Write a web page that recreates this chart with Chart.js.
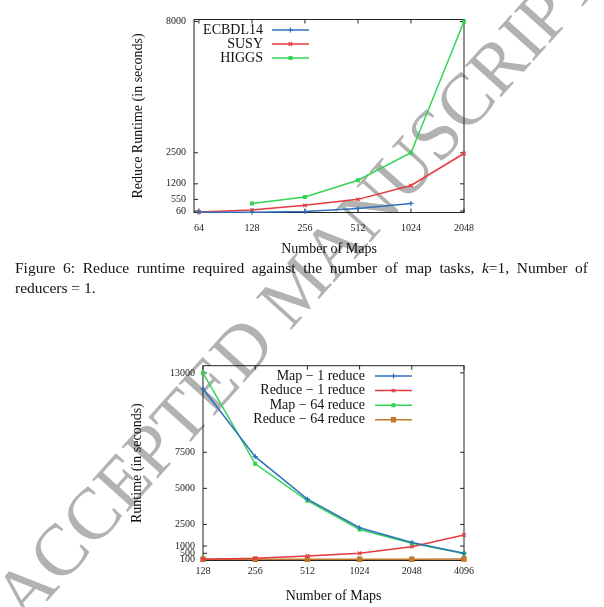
<!DOCTYPE html>
<html><head><meta charset="utf-8">
<script src="https://cdn.jsdelivr.net/npm/chart.js@4/dist/chart.umd.min.js"></script>
<style>
html,body{margin:0;padding:0;background:#fff;}
body{width:604px;height:607px;position:relative;overflow:hidden;font-family:"Liberation Serif",serif;}
#wm{position:absolute;left:297px;top:287px;transform:translate(-50%,-50%) rotate(-48deg);font-size:73px;color:#b2b2b2;white-space:nowrap;z-index:0;font-family:"Liberation Serif",serif;line-height:1;}
canvas{position:absolute;left:0;z-index:1;}
#c1{top:0;}
#c2{top:340px;}
#cap{position:absolute;left:15px;top:258px;width:573px;font-size:15.5px;line-height:19.5px;z-index:2;color:#111;}
#cap .l1{display:block;text-align:justify;text-align-last:justify;white-space:nowrap;}
</style>
</head>
<body>
<div id="wm">ACCEPTED MANUSCRIPT</div>
<canvas id="c1" width="604" height="260"></canvas>
<div id="cap"><span class="l1">Figure 6: Reduce runtime required against the number of map tasks, <i>k</i>=1, Number of</span><span>reducers = 1.</span></div>
<canvas id="c2" width="604" height="267"></canvas>
<script>
// ---- data: chart 1 ----
const maps1 = [64, 128, 256, 512, 1024, 2048];
const ecbdl14 = [15, 10, 40, 170, 380, null];
const susy = [20, 100, 300, 550, 1130, 2470];
const higgs = [null, 380, 650, 1350, 2500, 8000];
const yTicks1 = [60, 550, 1200, 2500, 8000];
const labels1 = ['ECBDL14', 'SUSY', 'HIGGS'];
// ---- data: chart 2 ----
const maps2 = [128, 256, 512, 1024, 2048, 4096];
const map1 = [11900, 7200, 4250, 2270, 1250, 500];
const reduce1 = [80, 150, 310, 500, 960, 1770];
const map64 = [13000, 6700, 4150, 2150, 1200, 490];
const reduce64 = [80, 80, 80, 80, 80, 100];
const yTicks2 = [100, 500, 1000, 2500, 5000, 7500, 13000];
const labels2 = ['Map \u2212 1 reduce', 'Reduce \u2212 1 reduce', 'Map \u2212 64 reduce', 'Reduce \u2212 64 reduce'];

const BLUE = '#2f72bb', RED = '#e53a3f', GREEN = '#35d455', BROWN = '#c07a2e';
const SERIF = '"Liberation Serif", serif';

function pts(xs, ys) { return xs.map((x, i) => ({x: x, y: ys[i]})); }
function ds(label, xs, ys, color, style, r) {
  return {label, data: pts(xs, ys), borderColor: color, backgroundColor: color,
    pointBackgroundColor: color, pointBorderColor: color, borderWidth: 1.5,
    pointStyle: style, pointRadius: r, pointBorderWidth: 1.2, pointHoverRadius: r,
    clip: false, tension: 0, spanGaps: false};
}

const framePlugin = {
  id: 'frame',
  beforeDatasetsDraw(chart) {
    const {ctx, chartArea: a, scales: {x, y}} = chart;
    ctx.save();
    ctx.strokeStyle = '#222'; ctx.lineWidth = 1;
    const L = a.left, R = a.right, T = a.top, B = a.bottom, tl = 4;
    ctx.strokeRect(L, T, R - L, B - T);
    ctx.beginPath();
    x.ticks.forEach(t => { const p = x.getPixelForValue(t.value);
      ctx.moveTo(p, B); ctx.lineTo(p, B - tl); ctx.moveTo(p, T); ctx.lineTo(p, T + tl); });
    y.ticks.forEach(t => { const p = y.getPixelForValue(t.value);
      ctx.moveTo(L, p); ctx.lineTo(L + tl, p); ctx.moveTo(R, p); ctx.lineTo(R - tl, p); });
    ctx.stroke();
    ctx.restore();
  }
};

const legendPlugin = {
  id: 'gLegend',
  afterDraw(chart, args, o) {
    const ctx = chart.ctx;
    ctx.save();
    chart.data.datasets.forEach((d, i) => {
      const y = o.y0 + i * o.dy;
      ctx.font = '14px ' + SERIF; ctx.textAlign = 'right'; ctx.textBaseline = 'middle';
      ctx.fillStyle = '#111';
      ctx.fillText(d.label, o.textRight, y);
      ctx.strokeStyle = d.borderColor; ctx.lineWidth = d.borderWidth;
      ctx.beginPath(); ctx.moveTo(o.x0, y); ctx.lineTo(o.x1, y); ctx.stroke();
      ctx.fillStyle = d.pointBackgroundColor; ctx.strokeStyle = d.pointBorderColor; ctx.lineWidth = d.pointBorderWidth;
      Chart.helpers.drawPoint(ctx, {pointStyle: d.pointStyle, radius: d.pointRadius, borderWidth: d.pointBorderWidth, rotation: 0}, (o.x0 + o.x1) / 2, y);
    });
    ctx.restore();
  }
};

function makeOpts(cfg) {
  return {
    responsive: false, animation: false, devicePixelRatio: 1,
    layout: {padding: cfg.pad},
    plugins: {legend: {display: false}, tooltip: {enabled: false}, gLegend: cfg.legend},
    scales: {
      x: {type: 'logarithmic', min: cfg.xmin, max: cfg.xmax,
        afterBuildTicks: s => { s.ticks = cfg.xticks.map(v => ({value: v})); },
        afterFit: s => { s.height = cfg.xh; },
        grid: {display: false, drawTicks: false}, border: {display: false},
        ticks: {font: {family: SERIF, size: 10}, color: '#222', padding: cfg.xpad, maxRotation: 0, autoSkip: false,
          callback: v => String(v)},
        title: {display: true, text: 'Number of Maps', font: {family: SERIF, size: 14}, color: '#111', padding: {top: 0, bottom: 0}}
      },
      y: {type: 'linear', min: 0, max: cfg.ymax,
        afterBuildTicks: s => { s.ticks = cfg.yticks.map(v => ({value: v})); },
        afterFit: s => { s.width = cfg.yw; },
        grid: {display: false, drawTicks: false}, border: {display: false},
        ticks: {font: {family: SERIF, size: 10}, color: '#222', padding: 8, autoSkip: false,
          callback: v => String(v)},
        title: {display: true, text: cfg.ytitle, font: {family: SERIF, size: 14}, color: '#111', padding: {top: 0, bottom: 0}}
      }
    }
  };
}

new Chart(document.getElementById('c1'), {
  type: 'line',
  data: {datasets: [
    ds(labels1[0], maps1, ecbdl14, BLUE, 'cross', 2.5),
    ds(labels1[1], maps1, susy, RED, 'crossRot', 2.5),
    ds(labels1[2], maps1, higgs, GREEN, 'rect', 2)
  ]},
  options: makeOpts({pad: {left: 130, right: 140, top: 19.5, bottom: 2.6}, xmin: 60, xmax: 2048, xticks: maps1,
    xh: 44.9, xpad: 9.5, ymax: 8080, yticks: yTicks1, yw: 64, ytitle: 'Reduce Runtime (in seconds)',
    legend: {textRight: 263, x0: 272, x1: 309, y0: 30, dy: 14}}),
  plugins: [framePlugin, legendPlugin]
});

new Chart(document.getElementById('c2'), {
  type: 'line',
  data: {datasets: [
    ds(labels2[0], maps2, map1, BLUE, 'cross', 2.5),
    ds(labels2[1], maps2, reduce1, RED, 'crossRot', 2.5),
    ds(labels2[2], maps2, map64, GREEN, 'rect', 2),
    ds(labels2[3], maps2, reduce64, BROWN, 'rect', 3)
  ]},
  options: makeOpts({pad: {left: 128.6, right: 140, top: 25.7, bottom: 2.6}, xmin: 128, xmax: 4096, xticks: maps2,
    xh: 43.9, xpad: 5, ymax: 13500, yticks: yTicks2, yw: 74.4, ytitle: 'Runtime (in seconds)',
    legend: {textRight: 365, x0: 375, x1: 412, y0: 36, dy: 14.6}}),
  plugins: [framePlugin, legendPlugin]
});
</script>
</body></html>
